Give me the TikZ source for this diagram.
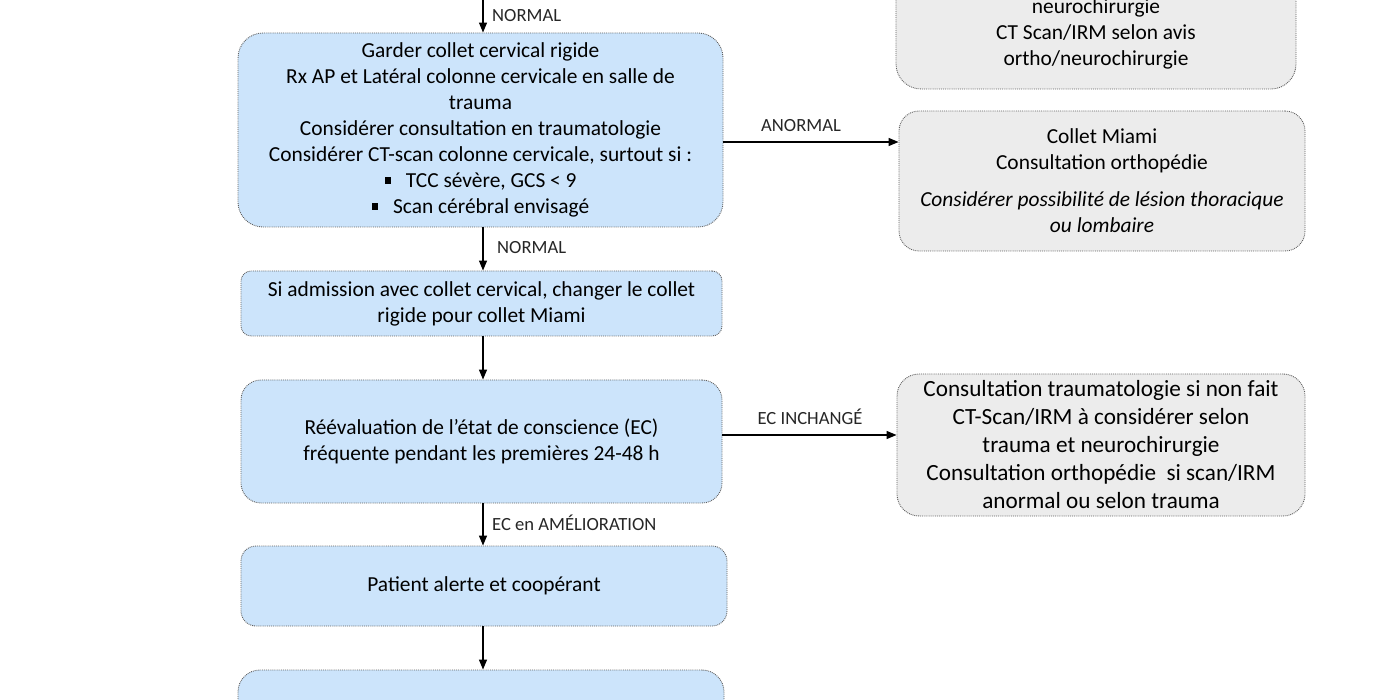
\documentclass[tikz,border=0pt]{standalone}
\usepackage{fontspec}
\setmainfont{Carlito}
\usetikzlibrary{arrows.meta}
\definecolor{bluefill}{RGB}{204,228,251}
\definecolor{grayfill}{RGB}{236,236,236}
\definecolor{bord}{RGB}{95,95,95}
\newcommand{\sqb}{\rule[0.18em]{0.3em}{0.3em}\hspace{0.7em}}
\begin{document}
\begin{tikzpicture}[x=1pt,y=-1pt,
  box/.style={draw=bord, densely dotted, line width=0.9pt, align=center, inner sep=0pt,
    font=\fontsize{21.4}{26}\selectfont},
  bluebox/.style={box, fill=bluefill},
  graybox/.style={box, fill=grayfill},
  arr/.style={-{Triangle[length=10pt,width=8pt]}, line width=1.3pt, solid, black},
  lbl/.style={font=\fontsize{18.6}{20}\selectfont, inner sep=0pt, text=black!85}]
\useasboundingbox (0,0) rectangle (1400,700);
\clip (0,0) rectangle (1400,700);

% main column
\node[bluebox, minimum width=485pt, minimum height=194pt, rounded corners=25pt] (b1) at (480.5,130)
 {Garder collet cervical rigide\\
  Rx AP et Latéral colonne cervicale en salle de\\
  trauma\\
  Considérer consultation en traumatologie\\
  Considérer CT-scan colonne cervicale, surtout si :\\
  \sqb TCC sévère, GCS < 9\\
  \sqb Scan cérébral envisagé};

\node[bluebox, minimum width=481pt, minimum height=65pt, rounded corners=10pt] (b3) at (481.5,303.5)
 {Si admission avec collet cervical, changer le collet\\
  rigide pour collet Miami};

\node[bluebox, minimum width=481pt, minimum height=123pt, rounded corners=20pt] (b4) at (481.5,441.5)
 {Réévaluation de l’état de conscience (EC)\\
  fréquente pendant les premières 24-48 h};

\node[bluebox, minimum width=486pt, minimum height=80pt, rounded corners=15pt] (b6) at (484,586)
 {Patient alerte et coopérant};

\node[bluebox, minimum width=486pt, minimum height=100pt, rounded corners=22pt] (b7) at (481,720) {};

% right column
\node[graybox, minimum width=400pt, minimum height=200pt, rounded corners=25pt] (tr) at (1096,-11) {};
\node[font=\fontsize{21.4}{26}\selectfont, align=center, inner sep=0pt] (trtext) at (1096,34)
 {neurochirurgie\\
  CT Scan/IRM selon avis\\
  ortho/neurochirurgie};

\node[graybox, minimum width=406pt, minimum height=140pt, rounded corners=20pt] (b2) at (1102,181)
 {Collet Miami\\
  Consultation orthopédie\\[11pt]
  \textit{Considérer possibilité de lésion thoracique}\\
  \textit{ou lombaire}};

\node[graybox, minimum width=408pt, minimum height=142pt, rounded corners=22pt,
      font=\fontsize{23.2}{28}\selectfont] (b5) at (1101,445)
 {Consultation traumatologie si non fait\\
  CT-Scan/IRM à considérer selon\\
  trauma et neurochirurgie\\
  Consultation orthopédie\ \ si scan/IRM\\
  anormal ou selon trauma};

% connectors
\coordinate (top) at (483,0);
\coordinate (ya) at (0,142);
\coordinate (yb) at (0,435);
\draw[arr] (top) -- (top |- b1.north);
\draw[arr] (b1.south -| top) -- (b3.north -| top);
\draw[arr] (b3.south -| top) -- (b4.north -| top);
\draw[arr] (b4.south -| top) -- (b6.north -| top);
\draw[arr] (b6.south -| top) -- (b7.north -| top);
\draw[arr] (b1.east |- ya) -- (b2.west |- ya);
\draw[arr] (b4.east |- yb) -- (b5.west |- yb);

% labels
\node[lbl, anchor=west] (l1) at (492,16) {NORMAL};
\node[lbl] (l2) at (801,126) {ANORMAL};
\node[lbl, anchor=west] (l3) at (497,248) {NORMAL};
\node[lbl] (l4) at (810,417) {EC INCHANGÉ};
\node[lbl, anchor=west] (l5) at (492,523) {EC en AMÉLIORATION};
\end{tikzpicture}
\end{document}
